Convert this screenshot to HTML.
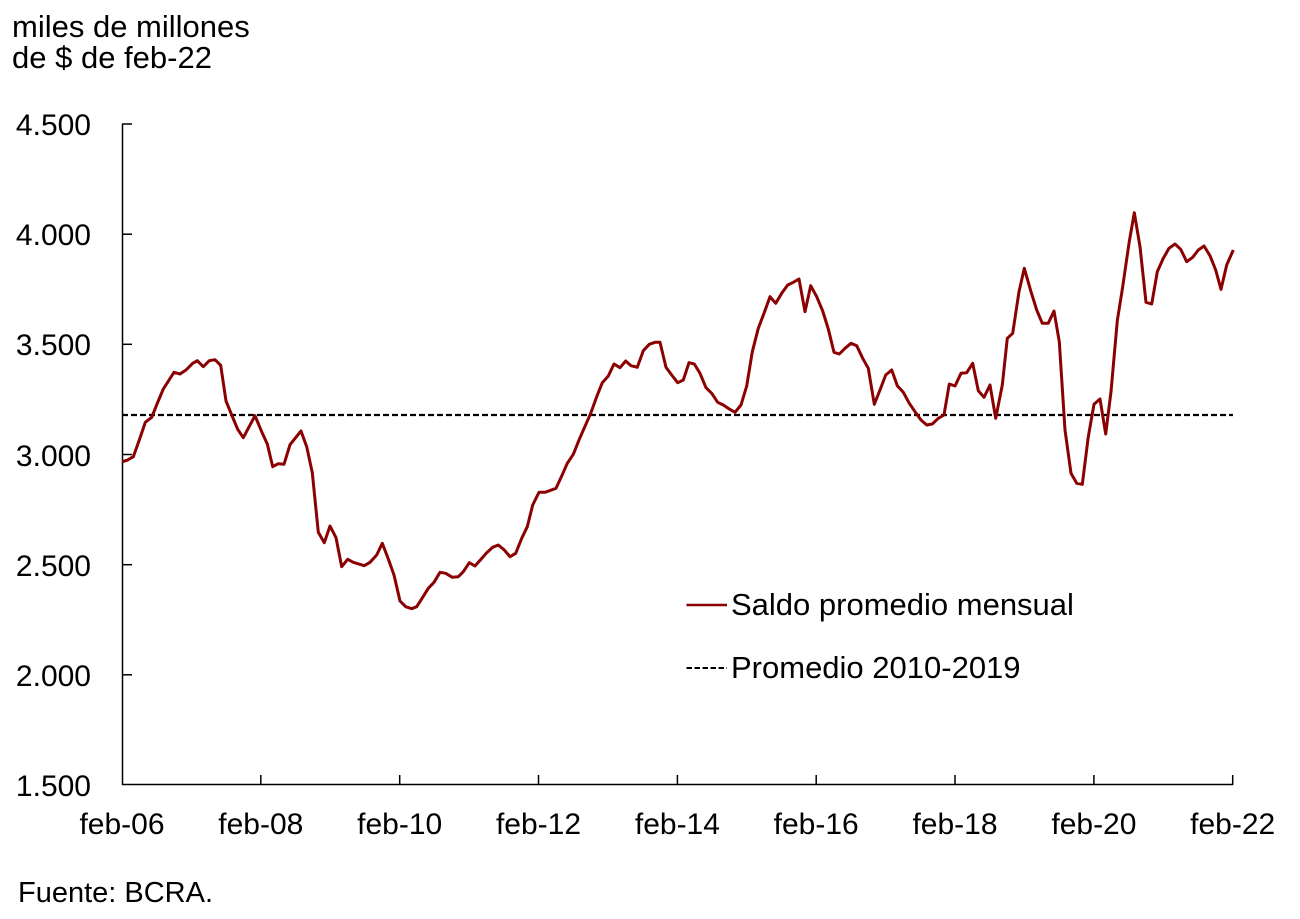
<!DOCTYPE html>
<html>
<head>
<meta charset="utf-8">
<style>
html,body{margin:0;padding:0;background:#fff;}
svg{display:block;}
text{font-family:"Liberation Sans",Arial,sans-serif;fill:#000;}
</style>
</head>
<body>
<svg width="1300" height="919" viewBox="0 0 1300 919" xmlns="http://www.w3.org/2000/svg">
  <rect width="1300" height="919" fill="#fff"/>
  <!-- title -->
  <text x="12" y="37" font-size="31">miles de millones</text>
  <text x="12" y="68" font-size="31">de $ de feb-22</text>

  <!-- axes -->
  <g stroke="#000" stroke-width="1.5" fill="none">
    <line x1="122.5" y1="124" x2="122.5" y2="785"/>
    <line x1="122" y1="784.5" x2="1233" y2="784.5"/>
    <!-- y ticks -->
    <line x1="122" y1="124" x2="132" y2="124"/>
    <line x1="122" y1="234.2" x2="132" y2="234.2"/>
    <line x1="122" y1="344.3" x2="132" y2="344.3"/>
    <line x1="122" y1="454.5" x2="132" y2="454.5"/>
    <line x1="122" y1="564.7" x2="132" y2="564.7"/>
    <line x1="122" y1="674.8" x2="132" y2="674.8"/>
    <!-- x ticks -->
    <line x1="260.8" y1="775" x2="260.8" y2="785"/>
    <line x1="399.7" y1="775" x2="399.7" y2="785"/>
    <line x1="538.5" y1="775" x2="538.5" y2="785"/>
    <line x1="677.4" y1="775" x2="677.4" y2="785"/>
    <line x1="816.2" y1="775" x2="816.2" y2="785"/>
    <line x1="955" y1="775" x2="955" y2="785"/>
    <line x1="1093.9" y1="775" x2="1093.9" y2="785"/>
    <line x1="1232.7" y1="775" x2="1232.7" y2="785"/>
  </g>

  <!-- y labels -->
  <g font-size="30" text-anchor="end">
    <text x="91" y="135">4.500</text>
    <text x="91" y="245">4.000</text>
    <text x="91" y="355">3.500</text>
    <text x="91" y="466">3.000</text>
    <text x="91" y="576">2.500</text>
    <text x="91" y="686">2.000</text>
    <text x="91" y="796">1.500</text>
  </g>

  <!-- x labels -->
  <g font-size="30" text-anchor="middle">
    <text x="122" y="834">feb-06</text>
    <text x="260.8" y="834">feb-08</text>
    <text x="399.7" y="834">feb-10</text>
    <text x="538.5" y="834">feb-12</text>
    <text x="677.4" y="834">feb-14</text>
    <text x="816.2" y="834">feb-16</text>
    <text x="955" y="834">feb-18</text>
    <text x="1093.9" y="834">feb-20</text>
    <text x="1232.7" y="834">feb-22</text>
  </g>

  <!-- average dashed line -->
  <line x1="122" y1="415" x2="1233" y2="415" stroke="#000" stroke-width="2.3" stroke-dasharray="6 3"/>

  <!-- series -->
  <polyline fill="none" stroke="#8B0000" stroke-width="3" stroke-linejoin="round" points="
122.3,461.7 127.7,460 133.3,456.7 139.3,440 145.3,422.3 151.7,417.3 157.3,403.3 163.3,389 174,372.3 180,374 186,370 192.7,363.3 197.3,360.7 203.3,366.7 209.3,360.7 215,359.7 220.7,365.3 226,401 231.7,415 237.7,429.3 243.3,437.7 255,415.7 261.7,431.7 267.3,444 272.7,466.7 278.3,463.7 284,464.3 290,444.7 301,431 306.7,446.7 312.3,472.7 318.3,532.3 324.3,542.7 330,526 336,537.7 341.7,566.7 347.7,559.3 353.3,562.3 364.3,565.7 370,562.3 376.7,555 382.3,543.3 388.3,559 394,575 400,601 405.7,606.7 411.7,608.7 416.7,606.7 422.7,597.3 428.3,588.3 434,582.3 440,572.3 445.7,573.3 452.3,577.3 458.3,576.7 463.3,571.7 469.3,562.7 475,566 481,559.3 486.7,552.7 492.7,547.3 498.3,545 504.3,550 510,556.7 515.7,553.3 521.7,538.3 527.3,526.7 532.7,505 539,492.3 545,492.3 556,488.3 561.7,476 567.3,463.3 573.3,454.3 579.3,439.3 590.7,413.3 596.7,396.7 602.3,382.7 608.3,376 614,364 620,367.7 625.7,361 631,365.7 637.3,367.3 643.3,350.7 649.3,344.3 655,342.3 660,342.3 666,367.3 671.7,375 677.7,382.7 683.3,380 689,362.7 694.3,364 700,373.3 706,387.7 711.7,393.3 717.7,402.3 723.3,405 729.3,409 735,412.3 741,405 746.7,386 752.3,351.7 758.3,328.3 764,313.3 770,296.7 775.7,303.3 781.7,293.3 787.7,285 793.3,282.3 799,279 805,311.7 810.7,285.7 816.7,296.7 822.7,311 828.3,329 834,352.3 839.3,354 845,348.3 851,343.3 856.7,345.7 862.7,358.3 868.3,368.3 874.3,404.3 880,390 885.7,375 891.7,370 897.3,385.7 903.3,392.3 909.3,403.3 915,411.7 921,420 926.7,425 932.3,424 938.3,418.3 944,415 949.3,384 955,386 961,373.3 966.7,372.7 972.7,363.3 978.3,390.7 984,397.3 990,385 995.7,418.3 1002.3,385 1007.3,338.3 1012.7,333.3 1019,291.7 1024.3,268.3 1030.7,290.7 1036.7,310 1042.3,323.3 1048.3,323.3 1054,311 1059.3,341.7 1065,430 1071,473.3 1076.7,483.3 1082.3,484.3 1088.3,436.7 1094,404.3 1100,399 1105.7,434 1111,391.7 1117.3,320.7 1122.7,286.7 1129,243.3 1134.3,212.7 1140,246.7 1146,302.3 1151.7,304 1157.3,271.7 1163.3,258.3 1169,248.3 1175,244 1180.7,249.3 1186.7,261.7 1192.7,257.3 1198.3,250 1204,246 1210,255.7 1215.7,270 1221,289.3 1226.7,265 1233.3,250"/>

  <!-- legend -->
  <line x1="686.5" y1="605" x2="727" y2="605" stroke="#8B0000" stroke-width="2.4"/>
  <text x="731" y="615" font-size="31">Saldo promedio mensual</text>
  <line x1="686.5" y1="668" x2="727" y2="668" stroke="#000" stroke-width="1.9" stroke-dasharray="5.5 2.5"/>
  <text x="731" y="678" font-size="31">Promedio 2010-2019</text>

  <!-- footer -->
  <text x="18" y="902" font-size="29">Fuente: BCRA.</text>
</svg>
</body>
</html>
